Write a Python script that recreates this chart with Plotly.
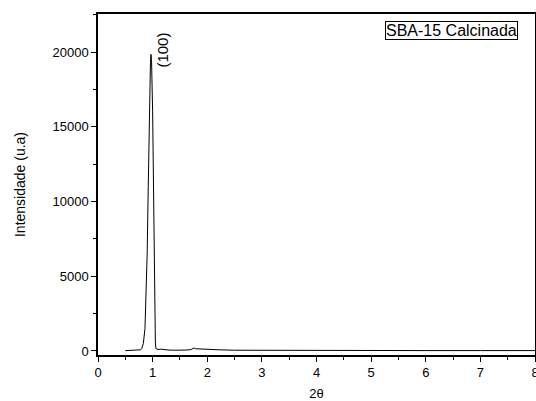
import plotly.graph_objects as go

two_theta = [0.50, 0.60, 0.70, 0.75, 0.78, 0.80, 0.83, 0.86, 0.88, 0.90, 0.92, 0.94,
             0.96, 0.97, 0.98, 1.00, 1.02, 1.03, 1.04, 1.05, 1.06, 1.08, 1.10, 1.15,
             1.20, 1.30, 1.40, 1.50, 1.60, 1.70, 1.74, 1.76, 1.78, 1.85, 2.00, 2.20,
             2.50, 3.00, 3.50, 4.00, 5.00, 6.00, 7.00, 8.00]
intensity = [20, 30, 40, 50, 80, 150, 500, 1500, 3500, 6500, 11000, 16000,
             19300, 19850, 19500, 16000, 9000, 5000, 2000, 600, 150, 110, 100, 120,
             90, 60, 50, 45, 60, 90, 150, 200, 150, 130, 110, 80,
             50, 40, 35, 30, 30, 25, 25, 25]

x_ticks = [0, 1, 2, 3, 4, 5, 6, 7, 8]
y_ticks = [0, 5000, 10000, 15000, 20000]

FONT = "Liberation Sans, Arial"

fig = go.Figure()
fig.add_trace(go.Scatter(x=two_theta, y=intensity, mode="lines",
                         line=dict(color="black", width=1), showlegend=False))

fig.add_annotation(x=1.18, y=20130, text="(100)", textangle=-90, showarrow=False,
                   font=dict(family=FONT, size=15, color="black"))
fig.add_annotation(xref="paper", yref="paper", x=0.960, y=0.979, xanchor="right", yanchor="top",
                   text="SBA-15 Calcinada", showarrow=False, bordercolor="black", borderwidth=1,
                   borderpad=0, bgcolor="white",
                   font=dict(family=FONT, size=16, color="black"))

axis_common = dict(showgrid=False, zeroline=False, showline=True, linecolor="black", linewidth=1.5,
                   mirror=True, ticks="outside", ticklen=5, tickwidth=1, tickcolor="black",
                   automargin=False, ticklabeloverflow="allow",
                   tickfont=dict(family=FONT, size=13, color="black"))

fig.update_xaxes(range=[0, 8], tickvals=x_ticks, ticktext=[str(v) for v in x_ticks],
                 minor=dict(ticks="outside", ticklen=3, dtick=0.5, tickcolor="black"),
                 title=dict(text="2θ", font=dict(family=FONT, size=13, color="black"),
                            standoff=11),
                 **axis_common)
fig.update_yaxes(range=[-270, 22550], tickvals=y_ticks, ticktext=[str(v) for v in y_ticks],
                 minor=dict(ticks="outside", ticklen=3, dtick=2500, tickcolor="black"),
                 title=dict(text="Intensidade (u.a)", font=dict(family=FONT, size=14, color="black"),
                            standoff=24),
                 **axis_common)

fig.update_layout(width=536, height=401, margin=dict(l=98, r=1, t=14, b=46),
                  plot_bgcolor="white", paper_bgcolor="white")

fig.write_html("out.html", config={"displayModeBar": False},
               post_script="document.body.style.margin='0';document.body.style.overflow='hidden';")
